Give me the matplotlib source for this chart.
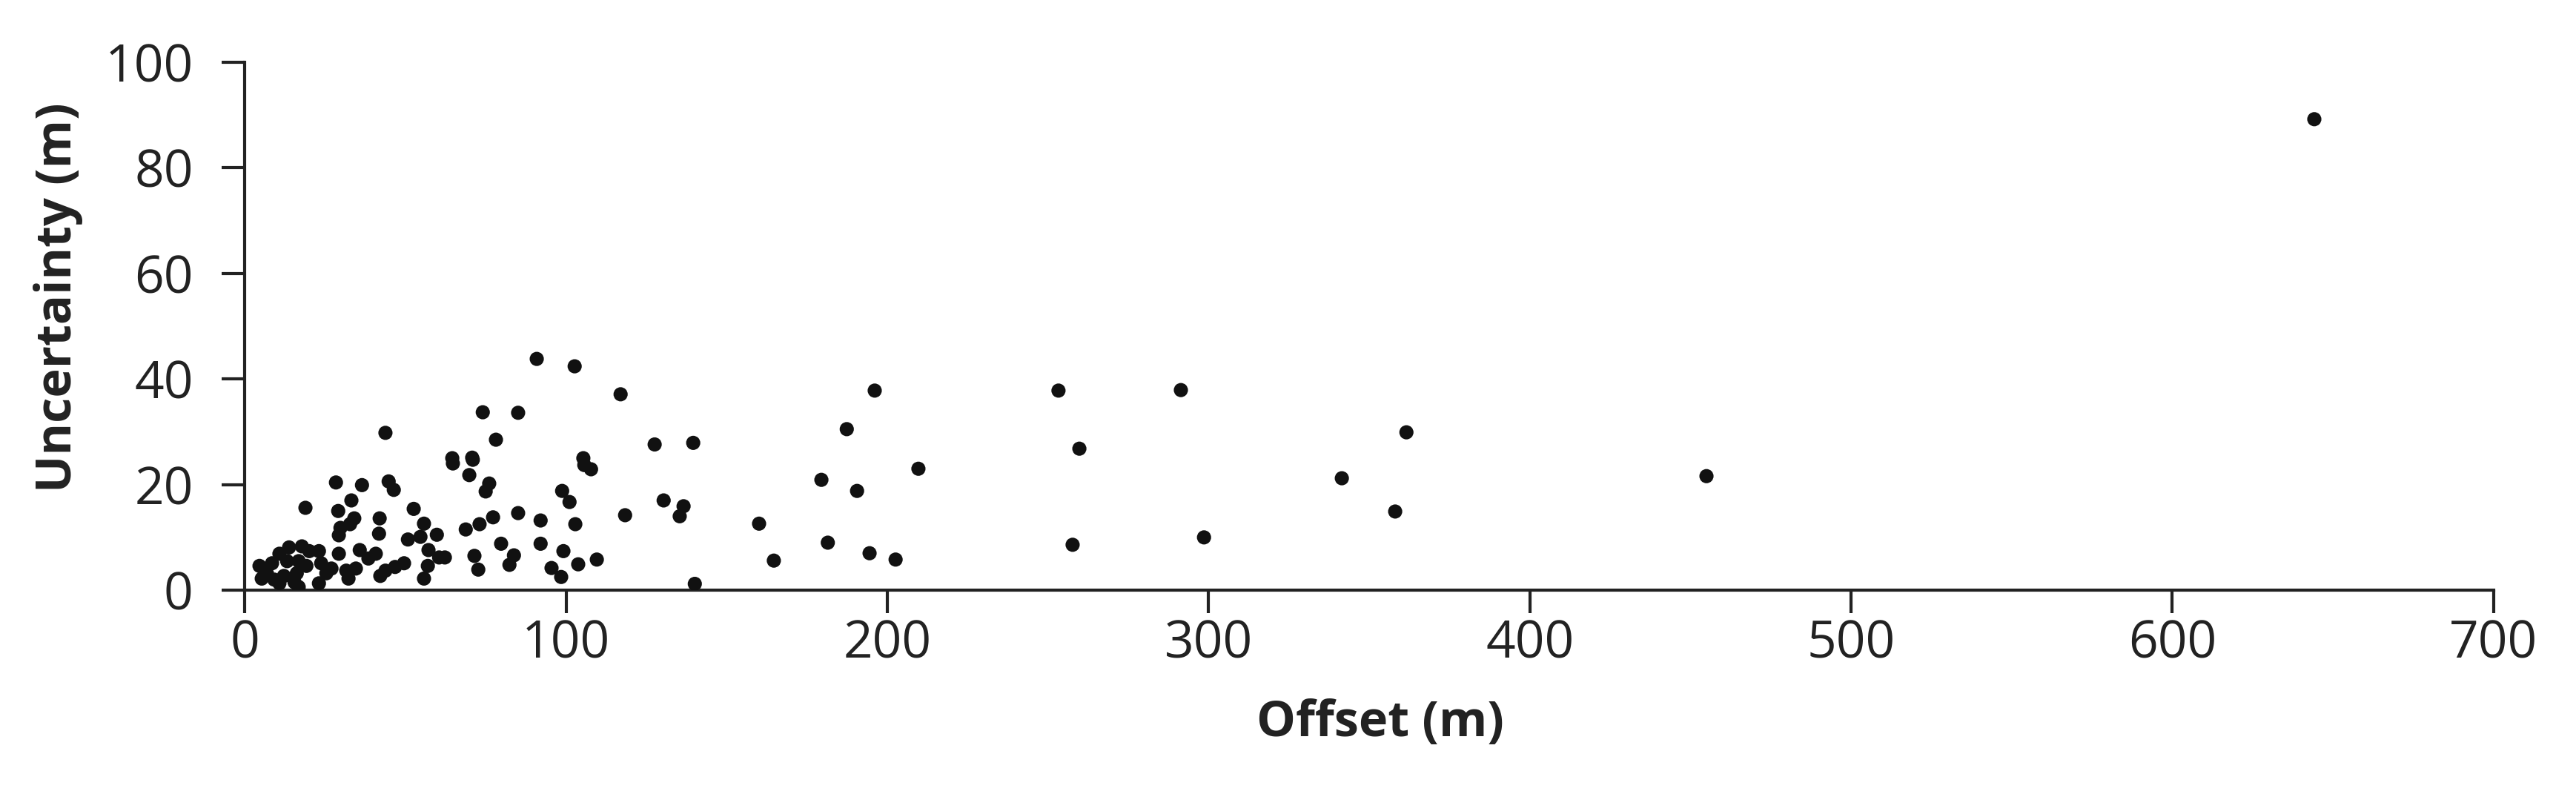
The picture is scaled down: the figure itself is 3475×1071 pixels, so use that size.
import matplotlib

matplotlib.use("Agg")
import matplotlib.pyplot as plt

# Offset (m) / uncertainty (m) pairs
offset_m = [
    4.6, 5.3, 6.9, 8.5, 9.2, 10.8, 10.8, 12.2, 13.2, 13.8,
    15.5, 16.2, 16.8, 16.8, 17.8, 18.9, 19.2, 20.1, 23.1, 23.1,
    23.8, 25.4, 27.0, 28.4, 29.1, 29.3, 29.3, 29.8, 31.6, 32.3,
    32.8, 33.2, 34.1, 34.6, 35.8, 36.5, 38.5, 40.8, 41.8, 42.0,
    42.2, 43.8, 43.8, 44.8, 46.4, 46.8, 49.6, 50.8, 52.6, 54.7,
    55.8, 55.8, 57.0, 57.2, 59.8, 60.5, 62.3, 64.6, 64.8, 68.8,
    69.9, 70.8, 71.0, 71.5, 72.7, 73.1, 74.1, 75.0, 76.1, 77.3,
    78.2, 79.8, 82.4, 83.8, 85.1, 85.1, 90.9, 92.1, 92.1, 95.5,
    98.5, 98.8, 99.2, 101.1, 102.7, 102.9, 103.8, 105.4, 105.7, 107.8,
    109.6, 117.0, 118.4, 127.6, 130.4, 135.4, 136.6, 139.6, 140.1, 160.1,
    164.7, 179.5, 181.5, 187.4, 190.6, 194.5, 196.1, 202.6, 209.7, 253.3,
    257.7, 259.8, 291.4, 298.6, 341.5, 358.1, 361.6, 455.0, 644.2,
]
uncertainty_m = [
    4.6, 2.2, 3.2, 5.1, 2.0, 6.9, 1.3, 2.7, 5.5, 8.1,
    1.5, 3.2, 0.6, 5.5, 8.3, 15.6, 4.6, 7.4, 7.4, 1.3,
    5.1, 3.2, 4.1, 20.4, 15.0, 10.4, 6.9, 11.8, 3.7, 2.2,
    12.5, 17.0, 13.6, 4.1, 7.6, 19.9, 6.0, 6.9, 10.7, 13.6,
    2.7, 29.8, 3.7, 20.6, 19.0, 4.4, 5.1, 9.6, 15.4, 10.1,
    12.6, 2.2, 4.6, 7.6, 10.5, 6.2, 6.2, 25.0, 24.0, 11.5,
    21.8, 25.1, 24.7, 6.5, 3.9, 12.5, 33.7, 18.7, 20.2, 13.8,
    28.5, 8.8, 4.8, 6.6, 33.6, 14.6, 43.8, 13.2, 8.8, 4.2,
    2.5, 18.8, 7.4, 16.7, 42.4, 12.5, 4.9, 25.0, 23.7, 22.9,
    5.8, 37.1, 14.2, 27.6, 17.0, 14.0, 15.9, 27.9, 1.2, 12.6,
    5.6, 20.9, 9.0, 30.5, 18.8, 7.0, 37.8, 5.8, 23.0, 37.8,
    8.6, 26.8, 37.9, 10.0, 21.2, 14.9, 29.9, 21.6, 89.2,
]

x_ticks = [0, 100, 200, 300, 400, 500, 600, 700]
y_ticks = [0, 20, 40, 60, 80, 100]

plt.rcParams["font.family"] = ["Open Sans", "DejaVu Sans"]

fig = plt.figure(figsize=(34.75, 10.71), dpi=100)
ax = fig.add_axes([0.095, 0.2567, 0.873, 0.665])

ax.scatter(offset_m, uncertainty_m, s=190, color="#111111", edgecolors="none", zorder=3)

ax.set_xlim(0, 700)
ax.set_ylim(0, 100)
ax.set_xticks(x_ticks)
ax.set_yticks(y_ticks)

for side in ("top", "right"):
    ax.spines[side].set_visible(False)
for side in ("left", "bottom"):
    ax.spines[side].set_linewidth(3)
    ax.spines[side].set_color("#222222")

ax.tick_params(axis="both", direction="out", length=22, width=3, color="#222222",
               labelsize=50, labelcolor="#222222")
ax.tick_params(axis="y", pad=28)
ax.tick_params(axis="x", pad=6)

ax.set_xlabel("Offset (m)", fontsize=48, fontweight="bold", color="#222222")
ax.set_ylabel("Uncertainty (m)", fontsize=48, fontweight="bold", color="#222222")
ax.xaxis.set_label_coords(0.505, -0.205)
ax.yaxis.set_label_coords(-0.072, 0.555)

fig.savefig("out.png", dpi=100, facecolor="white")
plt.close(fig)
